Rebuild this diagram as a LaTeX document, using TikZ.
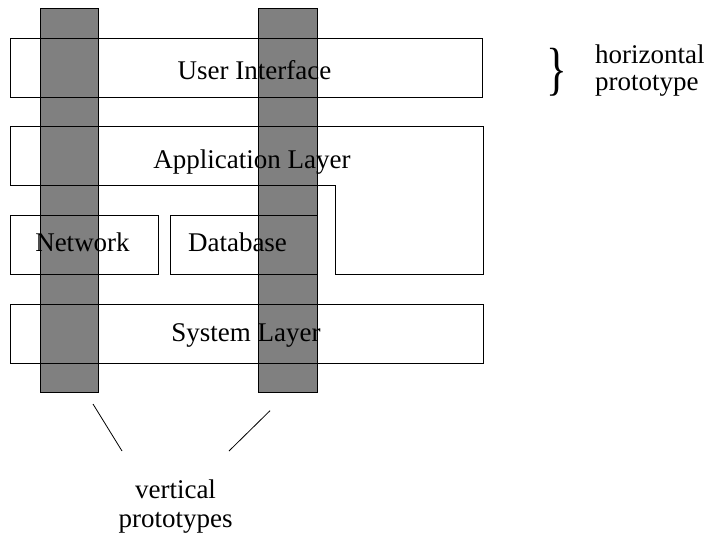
\documentclass[tikz,border=0pt]{standalone}
\usepackage{fontspec}
\setmainfont{Liberation Serif}
\usetikzlibrary{positioning,calc}

\begin{document}
\begin{tikzpicture}[x=1pt,y=-1pt,
  box/.style={draw,line width=0.8pt,inner sep=0pt,minimum height=59pt},
  bar/.style={draw,line width=0.8pt,fill=gray,inner sep=0pt,minimum width=58.5pt,minimum height=384pt},
  lbl/.style={font=\fontsize{27}{29}\selectfont,inner sep=0pt,anchor=base}]
\useasboundingbox (0,0) rectangle (708,537);
% the two vertical slices
\node[bar] (barA) at (69.5,200.8) {};
\node[bar] (barB) at (288,200.8) {};
% layers
\node[box,minimum width=472.5pt] (ui) at (246.2,68) {};
\draw[line width=0.8pt] (10,126.7) coordinate (appNW) -- (483,126.7) -- (483,274.5) -- (335,274.5) -- (335,185.5) -- (10,185.5) coordinate (appSW) -- cycle;
\node[box,minimum width=148pt] (net) at (84,244.5) {};
\node[box,minimum width=147pt] (db) at (243.5,245) {};
\node[box,minimum width=473pt] (sys) at (246.5,333.5) {};
\node[lbl] (uiText) at (254.5,80) {User Interface};
\node[lbl] (appText) at (252,169) {Application Layer};
\node[lbl] (netText) at (82.5,251) {Network};
\node[lbl] (dbText) at (237.5,251) {Database};
\node[lbl] (sysText) at (246,341.7) {System Layer};
% horizontal prototype
\node[inner sep=0pt,font=\fontsize{27}{29}\selectfont] (brace) at (557,72) {\scalebox{1.6}[2.15]{\}}};
\node[lbl,anchor=base west,align=left,font=\fontsize{27}{26.5}\selectfont] (hText) at (595,90.5) {horizontal\\prototype};
% vertical prototypes
\node[lbl,align=center] (vText) at (175.5,527.5) {vertical\\prototypes};
\coordinate (a1) at (93,404);
\coordinate (a2) at (122,451);
\coordinate (b1) at (270,410.7);
\coordinate (b2) at (229,451);
\draw[line width=0.8pt] (a1) -- (a2);
\draw[line width=0.8pt] (b1) -- (b2);
\end{tikzpicture}
\end{document}
